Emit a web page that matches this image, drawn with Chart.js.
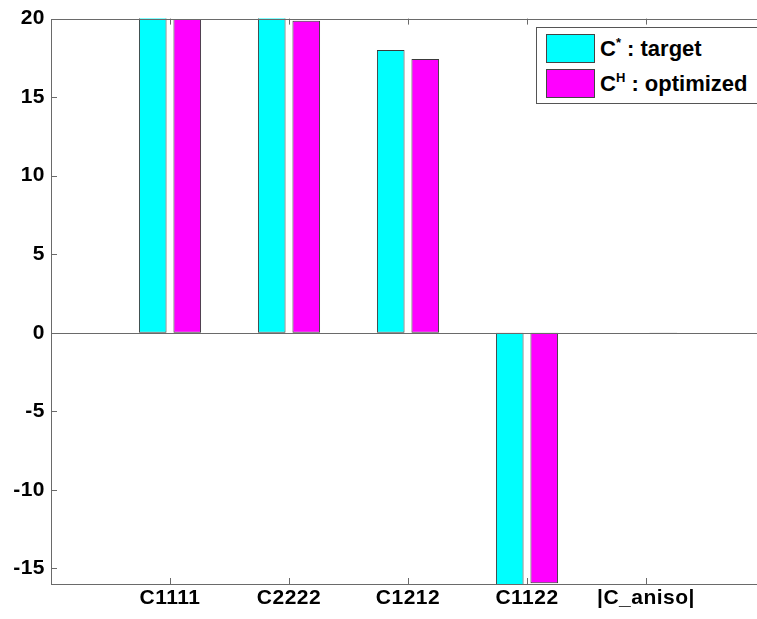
<!DOCTYPE html>
<html>
<head>
<meta charset="utf-8">
<script src="https://cdn.jsdelivr.net/npm/chart.js@4.4.0/dist/chart.umd.min.js"></script>
<style>
  html, body { margin: 0; padding: 0; background: #fff; overflow: hidden; width: 757px; height: 619px; }
  #wrap { position: relative; width: 757px; height: 619px; overflow: hidden; }
  #chart { position: absolute; left: 0; top: 0; }
  #legend {
    position: absolute; left: 536px; top: 27px; width: 300px; height: 75px;
    border: 1px solid #555; background: #fff;
    font: bold 22px "Liberation Sans", Arial, sans-serif; color: #000;
  }
  .row { position: absolute; left: 9px; display: flex; align-items: center; white-space: nowrap; }
  .sw { width: 47px; height: 27px; border: 1px solid #444; margin-right: 5px; }
  sup { font-size: 13px; vertical-align: 9px; line-height: 0; }
</style>
</head>
<body>
<div id="wrap">
  <canvas id="chart" width="830" height="619"></canvas>
  <div id="legend">
    <div class="row" style="top:6px"><div class="sw" style="background:#00ffff"></div><span>C<sup>*</sup> : target</span></div>
    <div class="row" style="top:41px"><div class="sw" style="background:#ff00ff"></div><span>C<sup>H</sup> : optimized</span></div>
  </div>
</div>
<script>
// Dữ liệu biểu đồ
const categories = ['C1111', 'C2222', 'C1212', 'C1122', '|C_aniso|'];
const targetValues = [20.5, 20.5, 18.0, -16.5, 0];
const optimizedValues = [19.97, 19.87, 17.42, -15.95, -0.05];
const yTickValues = [-15, -10, -5, 0, 5, 10, 15, 20];

// thêm ô trống ở hai đầu để trục x chạy từ 0 đến 6 như MATLAB
const labels = [''].concat(categories, ['']);
const padData = arr => [null].concat(arr, [null]);

const axisColor = '#6a6a6a';
const tickFont = { family: '"Liberation Sans", Arial, sans-serif', size: 21, weight: 'bold' };

// vẽ khung, đường 0 và vạch chia hướng vào trong
const axesBox = {
    id: 'axesBox',
    beforeDraw(chart) {
        chart.ctx.letterSpacing = '0.5px';
    },
    afterDatasetsDraw(chart) {
        const ctx = chart.ctx;
        const a = chart.chartArea;
        const xs = chart.scales.x;
        const ys = chart.scales.y;
        ctx.save();
        ctx.strokeStyle = axisColor;
        ctx.lineWidth = 1;
        ctx.beginPath();
        const y0 = Math.round(ys.getPixelForValue(0)) + 0.5;
        ctx.moveTo(a.left, y0);
        ctx.lineTo(a.right, y0);
        ys.ticks.forEach(t => {
            const y = Math.round(ys.getPixelForValue(t.value)) + 0.5;
            ctx.moveTo(a.left, y);
            ctx.lineTo(a.left + 6, y);
        });
        for (let i = 1; i <= categories.length; i++) {
            const x = Math.round(xs.getPixelForValue(i)) + 0.5;
            ctx.moveTo(x, a.bottom);
            ctx.lineTo(x, a.bottom - 6);
            ctx.moveTo(x, a.top);
            ctx.lineTo(x, a.top + 6);
        }
        ctx.stroke();
        ctx.strokeRect(Math.round(a.left) + 0.5, Math.round(a.top) + 0.5,
            Math.round(a.right - a.left), Math.round(a.bottom - a.top));
        ctx.restore();
    }
};

new Chart(document.getElementById('chart'), {
    type: 'bar',
    data: {
        labels: labels,
        datasets: [{
            label: 'target',
            data: padData(targetValues),
            backgroundColor: '#00ffff',
            borderColor: '#3a3a3a',
            borderWidth: 1,
            borderSkipped: false
        }, {
            label: 'optimized',
            data: padData(optimizedValues),
            backgroundColor: '#ff00ff',
            borderColor: '#3a3a3a',
            borderWidth: 1,
            borderSkipped: false
        }]
    },
    options: {
        responsive: false,
        animation: false,
        devicePixelRatio: 1,
        categoryPercentage: 0.58,
        barPercentage: 0.8,
        layout: { padding: { top: 18, right: 65, left: 0, bottom: 0 } },
        plugins: { legend: { display: false }, tooltip: { enabled: false } },
        scales: {
            x: {
                offset: false,
                grid: { display: false, drawTicks: false },
                border: { display: false },
                ticks: { color: '#000', font: tickFont, padding: 2, maxRotation: 0, autoSkip: false },
                afterFit(scale) { scale.height = 35; }
            },
            y: {
                min: -16,
                max: 20,
                grid: { display: false, drawTicks: false },
                border: { display: false },
                ticks: { color: '#000', font: tickFont, padding: 6 },
                afterBuildTicks(scale) { scale.ticks = yTickValues.map(v => ({ value: v })); },
                afterFit(scale) { scale.width = 51; }
            }
        }
    },
    plugins: [axesBox]
});
</script>
</body>
</html>
